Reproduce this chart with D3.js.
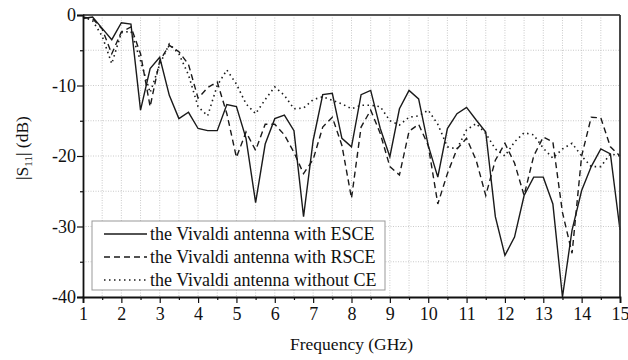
<!DOCTYPE html>
<html>
<head>
<meta charset="utf-8">
<script src="https://d3js.org/d3.v7.min.js"></script>
<style>
  body { margin: 0; background: #fff; }
  svg text { font-family: "Liberation Serif", "Times New Roman", Times, "DejaVu Serif", serif !important; fill: #111; }
</style>
</head>
<body>
<svg id="chart" width="628" height="360"></svg>
<script>
// frequency samples (GHz)
var freq = [1, 1.25, 1.5, 1.75, 2, 2.25, 2.5, 2.75, 3, 3.25, 3.5, 3.75, 4, 4.25, 4.5, 4.75,
  5, 5.25, 5.5, 5.75, 6, 6.25, 6.5, 6.75, 7, 7.25, 7.5, 7.75, 8, 8.25, 8.5, 8.75,
  9, 9.25, 9.5, 9.75, 10, 10.25, 10.5, 10.75, 11, 11.25, 11.5, 11.75, 12, 12.25, 12.5, 12.75,
  13, 13.25, 13.5, 13.75, 14, 14.25, 14.5, 14.75, 15];

// |S11| in dB
var esce = [-0.5, -0.3, -1.9, -3.5, -1.1, -1.3, -13.5, -7.6, -6.0, -11.4, -14.7, -13.8, -16.1, -16.4, -16.4, -12.7,
  -13.0, -17.5, -26.6, -18.3, -14.7, -14.2, -16.4, -28.6, -17.8, -11.3, -11.1, -17.5, -18.7, -11.3, -10.7, -16.1,
  -20.1, -13.3, -10.7, -11.9, -18.5, -23.0, -16.1, -14.0, -13.1, -14.9, -16.6, -28.6, -34.1, -31.5, -25.6, -23.0,
  -23.0, -26.8, -40.0, -30.5, -24.9, -21.5, -19.0, -19.7, -30.5];

var rsce = [-0.3, -0.5, -2.0, -5.5, -2.4, -1.7, -5.5, -13.0, -6.5, -4.3, -5.2, -7.0, -11.8, -10.3, -9.5, -14.0,
  -20.2, -16.6, -19.2, -15.5, -15.5, -17.0, -19.5, -22.5, -20.5, -15.9, -14.5, -18.5, -26.0, -15.9, -13.5, -16.8,
  -21.5, -22.7, -16.5, -15.5, -18.5, -26.8, -22.5, -19.0, -17.5, -20.6, -25.6, -20.6, -18.2, -21.0, -25.6, -20.0,
  -17.3, -18.0, -28.0, -33.8, -20.0, -14.5, -14.6, -18.7, -20.0];

var noCE = [-0.3, -0.8, -3.0, -6.9, -2.5, -2.3, -6.5, -11.0, -7.0, -4.1, -5.5, -8.5, -13.0, -14.3, -10.0, -7.8,
  -9.8, -12.6, -14.0, -12.0, -10.2, -11.4, -13.3, -13.2, -12.0, -11.6, -12.1, -12.6, -13.3, -12.8, -12.8, -13.0,
  -15.0, -15.6, -14.5, -14.3, -13.5, -15.5, -18.7, -19.0, -16.3, -15.4, -16.8, -19.0, -20.0, -18.0, -16.7, -17.0,
  -18.9, -20.3, -19.0, -18.2, -20.0, -21.5, -21.5, -19.7, -20.0];

var seriesNames = ["the Vivaldi antenna with ESCE", "the Vivaldi antenna with RSCE", "the Vivaldi antenna without CE"];
var dashes = [null, "6,4", "1.5,3.5"];

var xTicks = [1, 2, 3, 4, 5, 6, 7, 8, 9, 10, 11, 12, 13, 14, 15];
var yTicks = [0, -10, -20, -30, -40];

var margin = {top: 15, right: 8, bottom: 63, left: 83};
var W = 628, H = 360;
var iw = W - margin.left - margin.right, ih = H - margin.top - margin.bottom;

var svg = d3.select("#chart");
var g = svg.append("g").attr("transform", "translate(" + margin.left + "," + margin.top + ")");

var x = d3.scaleLinear().domain([1, 15]).range([0, iw]);
var y = d3.scaleLinear().domain([-40, 0]).range([ih, 0]);

// dotted grid at half steps
var xGrid = d3.range(3, 30).map(function(d){ return d / 2; });
var yGrid = d3.range(-7, 0).map(function(d){ return d * 5; });
g.append("g").selectAll("line").data(xGrid).enter().append("line")
  .attr("x1", function(d){ return x(d); }).attr("x2", function(d){ return x(d); })
  .attr("y1", 0).attr("y2", ih)
  .attr("stroke", "#bdbdbd").attr("stroke-width", 0.8).attr("stroke-dasharray", "1,1.5");
g.append("g").selectAll("line").data(yGrid).enter().append("line")
  .attr("y1", function(d){ return y(d); }).attr("y2", function(d){ return y(d); })
  .attr("x1", 0).attr("x2", iw)
  .attr("stroke", "#bdbdbd").attr("stroke-width", 0.8).attr("stroke-dasharray", "1,1.5");

// curves
var curves = [esce, rsce, noCE];
var line = d3.line().x(function(d){ return x(d[0]); }).y(function(d){ return y(d[1]); });
curves.forEach(function(vals, i){
  g.append("path")
    .datum(freq.map(function(f, k){ return [f, vals[k]]; }))
    .attr("fill", "none")
    .attr("stroke", "#1a1a1a")
    .attr("stroke-width", i == 2 ? 1.6 : 1.4)
    .attr("stroke-dasharray", dashes[i])
    .attr("d", line);
});

// frame
g.append("line").attr("x1", 0).attr("x2", iw).attr("y1", 0).attr("y2", 0).attr("stroke", "#555").attr("stroke-width", 2);
g.append("line").attr("x1", iw).attr("x2", iw).attr("y1", 0).attr("y2", ih).attr("stroke", "#333").attr("stroke-width", 1.8);

// axes (plain hyphen minus like the original)
var fmt = function(d){ return String(d); };
var xAxis = g.append("g").attr("transform", "translate(0," + ih + ")")
  .call(d3.axisBottom(x).tickValues(xTicks).tickSize(6).tickFormat(fmt));
g.append("g").attr("transform", "translate(0," + ih + ")")
  .call(d3.axisBottom(x).tickValues(xGrid.filter(function(d){ return d % 1 != 0; })).tickSize(3).tickFormat(""))
  .select(".domain").remove();
var yAxis = g.append("g")
  .call(d3.axisLeft(y).tickValues(yTicks).tickSize(6).tickFormat(fmt));
g.append("g")
  .call(d3.axisLeft(y).tickValues(yGrid.filter(function(d){ return d % 10 != 0; })).tickSize(3).tickFormat(""))
  .select(".domain").remove();

g.selectAll("g").attr("font-family", null);
g.selectAll(".domain").attr("stroke", "#111").attr("stroke-width", 1.8);
g.selectAll(".tick line").attr("stroke", "#111").attr("stroke-width", 1.2);
xAxis.selectAll("text").style("font-size", "18px").attr("dy", "0.95em").attr("y", 6);
yAxis.selectAll("text").style("font-size", "18px").attr("x", -7);
g.selectAll(".tick text").attr("fill", "#111");

// axis titles
svg.append("text")
  .attr("x", margin.left + iw / 2).attr("y", 350)
  .attr("text-anchor", "middle").style("font-size", "17.5px")
  .text("Frequency (GHz)");

var yt = svg.append("text")
  .attr("transform", "translate(28," + 148 + ") rotate(-90)")
  .attr("text-anchor", "middle").style("font-size", "17.5px");
yt.append("tspan").text("|S");
yt.append("tspan").attr("dy", 4).style("font-size", "11px").text("11");
yt.append("tspan").attr("dy", -4).text("| (dB)");

// legend
var leg = svg.append("g").attr("transform", "translate(92,221)");
leg.append("rect").attr("width", 293).attr("height", 69)
  .attr("fill", "#fff").attr("stroke", "#999").attr("stroke-width", 1);
seriesNames.forEach(function(name, i){
  var ly = 13 + i * 23;
  leg.append("line").attr("x1", 12).attr("x2", 55).attr("y1", ly).attr("y2", ly)
    .attr("stroke", "#1a1a1a").attr("stroke-width", i == 2 ? 1.6 : 1.4)
    .attr("stroke-dasharray", dashes[i]);
  leg.append("text").attr("x", 58).attr("y", ly + 6)
    .style("font-size", "18px").text(name);
});
</script>
</body>
</html>
